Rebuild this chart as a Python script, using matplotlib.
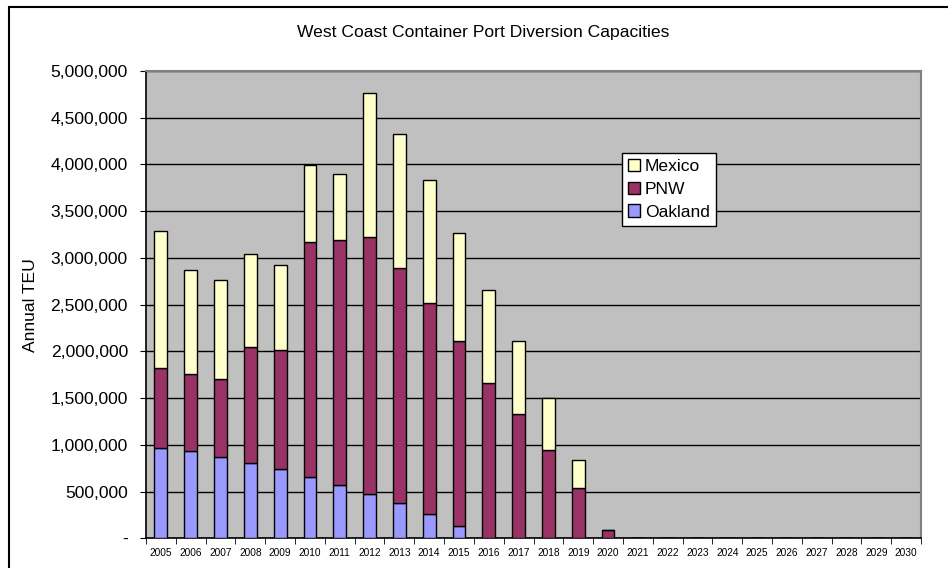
import matplotlib
matplotlib.use("Agg")
import matplotlib.pyplot as plt
import numpy as np
from matplotlib.ticker import FuncFormatter, FixedLocator
from matplotlib.patches import Rectangle, Patch

years = [str(y) for y in range(2005, 2031)]
oakland = [966000, 929000, 872000, 808000, 740000, 658000, 572000, 479000, 375000,
           261000, 135000, 0, 0, 0, 0, 0, 0, 0, 0, 0, 0, 0, 0, 0, 0, 0]
pnw = [851000, 826000, 830000, 1241000, 1270000, 2514000, 2615000, 2743000, 2514000,
       2256000, 1975000, 1666000, 1326000, 947000, 540000, 86000, 0, 0, 0, 0, 0, 0, 0, 0, 0, 0]
mexico = [1473000, 1120000, 1062000, 998000, 915000, 823000, 713000, 1545000, 1435000,
          1313000, 1158000, 987000, 784000, 558000, 297000, 0, 0, 0, 0, 0, 0, 0, 0, 0, 0, 0]

title = "West Coast Container Port Diversion Capacities"
ylabel = "Annual TEU"

plt.rcParams['font.family'] = ['Liberation Sans', 'DejaVu Sans']

fig = plt.figure(figsize=(9.48, 5.68), dpi=100)
ax = fig.add_axes([146/948, 1-538.3/568, (921-146)/948, (538.3-71)/568])
ax.set_facecolor('#C0C0C0')

x = np.arange(len(years))
w = 0.43
oak = np.array(oakland); pn = np.array(pnw); mx = np.array(mexico)
ax.bar(x, oak, w, color='#9999FF', edgecolor='black', linewidth=1.0, zorder=3)
ax.bar(x, pn, w, bottom=oak, color='#993366', edgecolor='black', linewidth=1.0, zorder=3)
ax.bar(x, mx, w, bottom=oak + pn, color='#FFFFCC', edgecolor='black', linewidth=1.0, zorder=3)

ax.set_xlim(-0.5, len(years) - 0.5)
ax.set_ylim(0, 5000000)
ax.set_yticks(np.arange(0, 5000001, 500000))
ax.yaxis.set_major_formatter(FuncFormatter(lambda v, p: '-' if v == 0 else f'{int(v):,}'))
ax.grid(axis='y', color='black', linewidth=1.0, zorder=1)
ax.set_axisbelow(True)

ax.set_xticks(x)
ax.set_xticklabels(years, fontsize=7.3)
ax.xaxis.set_minor_locator(FixedLocator(np.arange(-0.5, len(years), 1)))
ax.tick_params(axis='x', which='major', length=0, pad=7)
ax.tick_params(axis='x', which='minor', length=4, direction='out', color='black')
ax.tick_params(axis='y', length=4, direction='out', labelsize=12.6, pad=9)

for s in ['left', 'bottom']:
    ax.spines[s].set_color('black')
    ax.spines[s].set_linewidth(1.2)
for s in ['top', 'right']:
    ax.spines[s].set_color('#808080')
    ax.spines[s].set_linewidth(1.5)

ax.set_ylabel(ylabel, fontsize=12.6)
ax.yaxis.set_label_coords((38 - 146) / 775, 0.5)
fig.text(483/948, 1-33/568, title, ha='center', va='center', fontsize=12.6)

handles = [Patch(facecolor='#FFFFCC', edgecolor='black', label='Mexico'),
           Patch(facecolor='#993366', edgecolor='black', label='PNW'),
           Patch(facecolor='#9999FF', edgecolor='black', label='Oakland')]
leg = ax.legend(handles=handles, loc='upper left', bbox_to_anchor=((622-146)/775, (538.3-153)/467.3),
                fontsize=12.6, frameon=True, fancybox=False, edgecolor='black', framealpha=1,
                handlelength=0.7, handleheight=0.7, handletextpad=0.25, borderpad=0.35,
                labelspacing=0.42, borderaxespad=0)
leg.get_frame().set_linewidth(1.0)

border = Rectangle((9/948, -0.1), 1.2, 1 - 7/568 + 0.1, transform=fig.transFigure,
                   fill=False, edgecolor='black', linewidth=1.5, clip_on=False)
fig.patches.append(border)

fig.savefig('out.png', dpi=100)
